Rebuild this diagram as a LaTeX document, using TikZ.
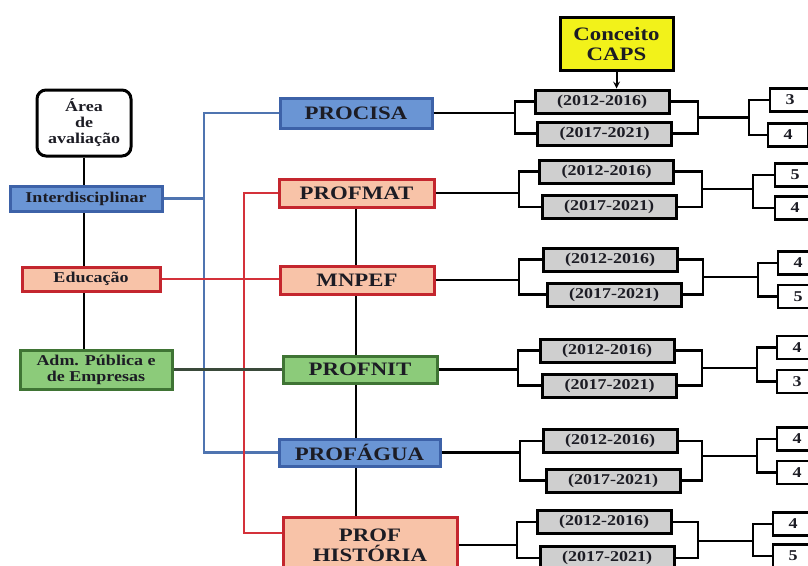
\documentclass[tikz,border=0pt]{standalone}
\usepackage{fontspec}
\setmainfont{Liberation Serif}[FakeStretch=1.2]
\usepackage{tikz}
\usetikzlibrary{backgrounds, arrows}
\usepackage{xcolor}
\definecolor{textdark}{HTML}{1C1C24}
\definecolor{blueFill}{HTML}{6A95D4}
\definecolor{blueEdge}{HTML}{3D62A8}
\definecolor{orangeFill}{HTML}{F8C3A8}
\definecolor{redEdge}{HTML}{C4262E}
\definecolor{greenFill}{HTML}{8CCB7A}
\definecolor{greenEdge}{HTML}{3F7434}
\definecolor{periodFill}{HTML}{CFCFCF}
\definecolor{capsYellow}{HTML}{F2F21A}
\definecolor{blueLine}{HTML}{4F74B0}
\definecolor{redLine}{HTML}{D4313A}
\definecolor{admLine}{HTML}{3A4A3A}
\tikzstyle{arrow} = [line width=2pt,-stealth]

\begin{document}
\begin{tikzpicture}[x=1pt, y=-1pt,
    box/.style={draw, line width=3pt, inner sep=0pt, text=textdark, font=\fontsize{15}{16}\selectfont\bfseries},
    bluebox/.style={box, fill=blueFill, draw=blueEdge},
    redbox/.style={box, fill=orangeFill, draw=redEdge},
    greenbox/.style={box, fill=greenFill, draw=greenEdge},
    prog/.style={font=\fontsize{19}{20}\selectfont\bfseries},
    period/.style={box, fill=periodFill, draw=black, minimum width=134pt, minimum height=23pt},
    score/.style={box, fill=white, draw=black, line width=2.5pt, minimum width=40pt, minimum height=23pt, font=\fontsize{15}{16}\selectfont\bfseries},
    link/.style={line width=2.5pt, black},
    blueline/.style={line width=2.5pt, blueLine},
    redline/.style={line width=2.5pt, redLine}
  ]

  \clip (0,0) rectangle (808,565);

  % left column
  \node[box, align=center, rounded corners=9pt, fill=white, minimum width=94pt, minimum height=66pt] (area) at (84,123) {Área\\de\\avaliação};
  \node[bluebox, minimum width=152pt, minimum height=25pt] (interd) at (86,198.5) {Interdisciplinar};
  \node[redbox, minimum width=138pt, minimum height=24pt] (educ) at (91,279) {Educação};
  \node[greenbox, align=center, minimum width=152pt, minimum height=39pt] (adm) at (96,369.5) {Adm. Pública e\\de Empresas};

  % programs
  \node[bluebox, prog, minimum width=152pt, minimum height=30pt] (procisa) at (356,113) {PROCISA};
  \node[redbox, prog, minimum width=155pt, minimum height=28pt] (profmat) at (356.5,193) {PROFMAT};
  \node[redbox, prog, minimum width=154pt, minimum height=28pt] (mnpef) at (357,280) {MNPEF};
  \node[greenbox, prog, minimum width=154pt, minimum height=27pt] (profnit) at (360,369.5) {PROFNIT};
  \node[bluebox, prog, minimum width=161pt, minimum height=27pt] (profagua) at (359.5,452.5) {PROFÁGUA};
  \node[redbox, prog, align=center, minimum width=174pt, minimum height=56pt] (profhist) at (370,545) {PROF\\HISTÓRIA};

  \node[box, prog, align=center, fill=capsYellow, draw=black, minimum width=113pt, minimum height=53pt] (caps) at (616.5,43.5) {Conceito\\CAPS};

  % periods and scores
  \node[period] (p1a) at (602,101.5) {(2012-2016)};
  \node[period] (p1b) at (604.5,133.5) {(2017-2021)};
  \node[score] (s1a) at (790,100) {3};
  \node[score] (s1b) at (788,135) {4};

  \node[period] (p2a) at (606.5,171.5) {(2012-2016)};
  \node[period] (p2b) at (609,207) {(2017-2021)};
  \node[score] (s2a) at (795,175) {5};
  \node[score] (s2b) at (795,208) {4};

  \node[period] (p3a) at (610,259.5) {(2012-2016)};
  \node[period] (p3b) at (614,294.5) {(2017-2021)};
  \node[score] (s3a) at (798,263) {4};
  \node[score] (s3b) at (798,296.5) {5};

  \node[period] (p4a) at (607,350.5) {(2012-2016)};
  \node[period] (p4b) at (609.5,385.5) {(2017-2021)};
  \node[score] (s4a) at (797,347.5) {4};
  \node[score] (s4b) at (797,381.5) {3};

  \node[period] (p5a) at (610,441) {(2012-2016)};
  \node[period] (p5b) at (613,480.5) {(2017-2021)};
  \node[score] (s5a) at (797,439) {4};
  \node[score] (s5b) at (797,472.5) {4};

  \node[period] (p6a) at (604,522) {(2012-2016)};
  \node[period] (p6b) at (607,558) {(2017-2021)};
  \node[score] (s6a) at (793,524) {4};
  \node[score] (s6b) at (793,556) {5};

  % bracket points
  \coordinate (bl1) at (515,113);   \coordinate (br1) at (698,117.5); \coordinate (sb1) at (749,117.5);
  \coordinate (bl2) at (519,193);   \coordinate (br2) at (702,189);   \coordinate (sb2) at (753,189);
  \coordinate (bl3) at (519,280);   \coordinate (br3) at (703,277);   \coordinate (sb3) at (758,277);
  \coordinate (bl4) at (518,369.5); \coordinate (br4) at (702,368);   \coordinate (sb4) at (757,368);
  \coordinate (bl5) at (520,452.5); \coordinate (br5) at (702,456);   \coordinate (sb5) at (757,456);
  \coordinate (bl6) at (517,545);   \coordinate (br6) at (698,541);   \coordinate (sb6) at (753,541);

  \coordinate (bbus) at (204,0);
  \coordinate (rbus) at (244,0);
  \coordinate (mbus) at (356,0);
  \coordinate (hy) at (0,533);

  % spines
  \begin{scope}[on background layer]
    \draw[link] (area.south) -- (area.south |- adm.north);
    \draw[link] (mbus |- profmat.south) -- (mbus |- profhist.north);
  \end{scope}

  % area to programs
  \draw[blueline] (procisa.west) -| (bbus |- profagua.west) -- (profagua.west);
  \draw[blueline] (interd.east) -- (bbus |- interd.east);
  \draw[redline] (profmat.west) -| (rbus |- hy) -- (profhist.west |- hy);
  \draw[redline] (educ.east) -- (educ.east -| mnpef.west);
  \draw[line width=2.5pt, admLine] (adm.east) -- (adm.east -| profnit.west);

  % programs to periods to scores
  \draw[link] (procisa.east) -- (bl1);
  \draw[link] (p1a.west) -| (bl1) |- (p1b.west);
  \draw[link] (p1a.east) -| (br1) |- (p1b.east);
  \draw[link] (br1) -- (sb1);
  \draw[link] (s1a.west) -| (sb1) |- (s1b.west);

  \draw[link] (profmat.east) -- (bl2);
  \draw[link] (p2a.west) -| (bl2) |- (p2b.west);
  \draw[link] (p2a.east) -| (br2) |- (p2b.east);
  \draw[link] (br2) -- (sb2);
  \draw[link] (s2a.west) -| (sb2) |- (s2b.west);

  \draw[link] (mnpef.east) -- (bl3);
  \draw[link] (p3a.west) -| (bl3) |- (p3b.west);
  \draw[link] (p3a.east) -| (br3) |- (p3b.east);
  \draw[link] (br3) -- (sb3);
  \draw[link] (s3a.west) -| (sb3) |- (s3b.west);

  \draw[link] (profnit.east) -- (bl4);
  \draw[link] (p4a.west) -| (bl4) |- (p4b.west);
  \draw[link] (p4a.east) -| (br4) |- (p4b.east);
  \draw[link] (br4) -- (sb4);
  \draw[link] (s4a.west) -| (sb4) |- (s4b.west);

  \draw[link] (profagua.east) -- (bl5);
  \draw[link] (p5a.west) -| (bl5) |- (p5b.west);
  \draw[link] (p5a.east) -| (br5) |- (p5b.east);
  \draw[link] (br5) -- (sb5);
  \draw[link] (s5a.west) -| (sb5) |- (s5b.west);

  \draw[link] (profhist.east) -- (bl6);
  \draw[link] (p6a.west) -| (bl6) |- (p6b.west);
  \draw[link] (p6a.east) -| (br6) |- (p6b.east);
  \draw[link] (br6) -- (sb6);
  \draw[link] (s6a.west) -| (sb6) |- (s6b.west);

  \draw[arrow] (caps.south) -- (caps.south |- p1a.north);

\end{tikzpicture}
\end{document}
